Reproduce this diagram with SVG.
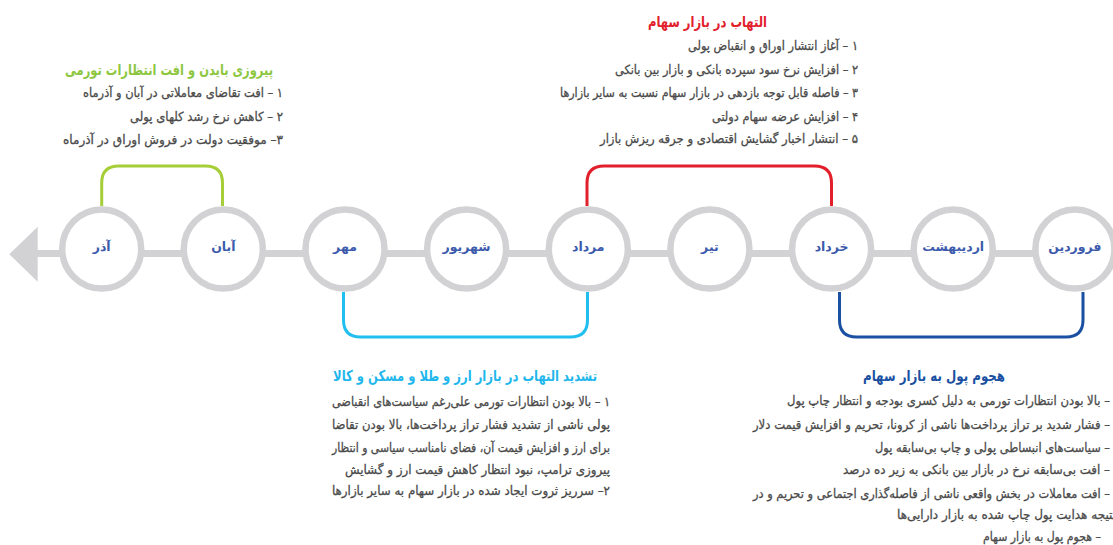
<svg xmlns="http://www.w3.org/2000/svg" width="1113" height="545" viewBox="0 0 1113 545">
<style>
.axis{stroke:#d2d2d4;stroke-width:7;fill:none}
.head{fill:#d2d2d4}
.ring{fill:#fff;stroke:#d2d2d4;stroke-width:6.5}
.mon{font-family:"DejaVu Sans",sans-serif;font-size:12.5px;font-weight:bold;fill:#3c5aab;text-anchor:middle}
.con{fill:none;stroke-width:3}
.t{font-family:"DejaVu Sans",sans-serif;font-size:15px;font-weight:bold;direction:rtl;text-anchor:start}
.b{font-family:"DejaVu Sans",sans-serif;font-size:12.5px;fill:#4a4a4a;stroke:#4a4a4a;stroke-width:0.3;direction:rtl;text-anchor:start}
</style>
<g id="connectors">
<path class="con" stroke="#a6ce39" d="M101.7,206 V183 Q101.7,166 118.7,166 H205.5 Q222.5,166 222.5,183 V206"/>
<path class="con" stroke="#e2202c" d="M587,206 V183 Q587,166 604,166 H814.5 Q831.5,166 831.5,183 V206"/>
<path class="con" stroke="#20bff0" d="M343.5,292 V320 Q343.5,337 360.5,337 H570.5 Q587.5,337 587.5,320 V292"/>
<path class="con" stroke="#1a50a2" d="M839.5,292 V320 Q839.5,337 856.5,337 H1066 Q1083,337 1083,320 V292"/>
</g>
<g id="timeline">
<line class="axis" x1="36" y1="253.5" x2="1113" y2="253.5"/>
<polygon class="head" points="9.3,254.3 37.7,226.7 37.7,281.7"/>
</g>
<g id="n-azar"><circle class="ring" cx="101.7" cy="249" r="39.5"/><text class="mon" x="101.7" y="251">آذر</text></g>
<g id="n-aban"><circle class="ring" cx="223.3" cy="249" r="39.5"/><text class="mon" x="223.3" y="251">آبان</text></g>
<g id="n-mehr"><circle class="ring" cx="345" cy="249" r="39.5"/><text class="mon" x="345" y="251">مهر</text></g>
<g id="n-shahrivar"><circle class="ring" cx="466.6" cy="249" r="39.5"/><text class="mon" x="466.6" y="251">شهریور</text></g>
<g id="n-mordad"><circle class="ring" cx="588.3" cy="249" r="39.5"/><text class="mon" x="588.3" y="251">مرداد</text></g>
<g id="n-tir"><circle class="ring" cx="709.9" cy="249" r="39.5"/><text class="mon" x="709.9" y="251">تیر</text></g>
<g id="n-khordad"><circle class="ring" cx="831.6" cy="249" r="39.5"/><text class="mon" x="831.6" y="251">خرداد</text></g>
<g id="n-ordibehesht"><circle class="ring" cx="953.2" cy="249" r="39.5"/><text class="mon" x="953.2" y="251">اردیبهشت</text></g>
<g id="n-farvardin"><circle class="ring" cx="1074.9" cy="249" r="39.5"/><text class="mon" x="1074.9" y="251">فروردین</text></g>
<g id="note-red">
<text class="t" fill="#e2202c" x="767" y="26.5" textLength="119" lengthAdjust="spacingAndGlyphs">التهاب در بازار سهام</text>
<text class="b" x="858" y="50" textLength="170" lengthAdjust="spacingAndGlyphs">۱ – آغاز انتشار اوراق و انقباض پولی</text>
<text class="b" x="858" y="74" textLength="243" lengthAdjust="spacingAndGlyphs">۲ – افزایش نرخ سود سپرده بانکی و بازار بین بانکی</text>
<text class="b" x="858" y="97" textLength="298" lengthAdjust="spacingAndGlyphs">۳ – فاصله قابل توجه بازدهی در بازار سهام نسبت به سایر بازارها</text>
<text class="b" x="858" y="121" textLength="146" lengthAdjust="spacingAndGlyphs">۴ – افزایش عرضه سهام دولتی</text>
<text class="b" x="858" y="143" textLength="258" lengthAdjust="spacingAndGlyphs">۵ – انتشار اخبار گشایش اقتصادی و جرقه ریزش بازار</text>
</g>
<g id="note-green">
<text class="t" fill="#8dc63f" x="273" y="74.5" textLength="208" lengthAdjust="spacingAndGlyphs">پیروزی بایدن و افت انتظارات تورمی</text>
<text class="b" x="283" y="97" textLength="200" lengthAdjust="spacingAndGlyphs">۱ – افت تقاضای معاملاتی در آبان و آذرماه</text>
<text class="b" x="283" y="121" textLength="153" lengthAdjust="spacingAndGlyphs">۲ – کاهش نرخ رشد کلهای پولی</text>
<text class="b" x="283" y="143.5" textLength="220" lengthAdjust="spacingAndGlyphs">۳– موفقیت دولت در فروش اوراق در آذرماه</text>
</g>
<g id="note-cyan">
<text class="t" fill="#1fb7ec" x="597" y="380.5" textLength="264" lengthAdjust="spacingAndGlyphs">تشدید التهاب در بازار ارز و طلا و مسکن و کالا</text>
<text class="b" x="610" y="406" textLength="278" lengthAdjust="spacingAndGlyphs">۱ – بالا بودن انتظارات تورمی علی‌رغم سیاست‌های انقباضی</text>
<text class="b" x="610" y="429" textLength="278" lengthAdjust="spacingAndGlyphs">پولی ناشی از تشدید فشار تراز پرداخت‌ها، بالا بودن تقاضا</text>
<text class="b" x="610" y="451.5" textLength="278" lengthAdjust="spacingAndGlyphs">برای ارز و افزایش قیمت آن، فضای نامناسب سیاسی و انتظار</text>
<text class="b" x="610" y="473.5" textLength="265" lengthAdjust="spacingAndGlyphs">پیروزی ترامپ، نبود انتظار کاهش قیمت ارز و گشایش</text>
<text class="b" x="610" y="495" textLength="278" lengthAdjust="spacingAndGlyphs">۲– سرریز ثروت ایجاد شده در بازار سهام به سایر بازارها</text>
</g>
<g id="note-blue">
<text class="t" fill="#1a50a2" x="1005" y="380.5" textLength="142" lengthAdjust="spacingAndGlyphs">هجوم پول به بازار سهام</text>
<text class="b" x="1110" y="405" textLength="323" lengthAdjust="spacingAndGlyphs">– بالا بودن انتظارات تورمی به دلیل کسری بودجه و انتظار چاپ پول</text>
<text class="b" x="1110" y="428.5" textLength="357" lengthAdjust="spacingAndGlyphs">– فشار شدید بر تراز پرداخت‌ها ناشی از کرونا، تحریم و افزایش قیمت دلار</text>
<text class="b" x="1110" y="451.5" textLength="235" lengthAdjust="spacingAndGlyphs">– سیاست‌های انبساطی پولی و چاپ بی‌سابقه پول</text>
<text class="b" x="1110" y="474" textLength="267" lengthAdjust="spacingAndGlyphs">– افت بی‌سابقه نرخ در بازار بین بانکی به زیر ده درصد</text>
<text class="b" x="1110" y="497.5" textLength="357" lengthAdjust="spacingAndGlyphs">– افت معاملات در بخش واقعی ناشی از فاصله‌گذاری اجتماعی و تحریم و در</text>
<text class="b" x="1116" y="519" textLength="219" lengthAdjust="spacingAndGlyphs">نتیجه هدایت پول چاپ شده به بازار دارایی‌ها</text>
<text class="b" x="1101" y="541" textLength="118" lengthAdjust="spacingAndGlyphs">– هجوم پول به بازار سهام</text>
</g>
</svg>
